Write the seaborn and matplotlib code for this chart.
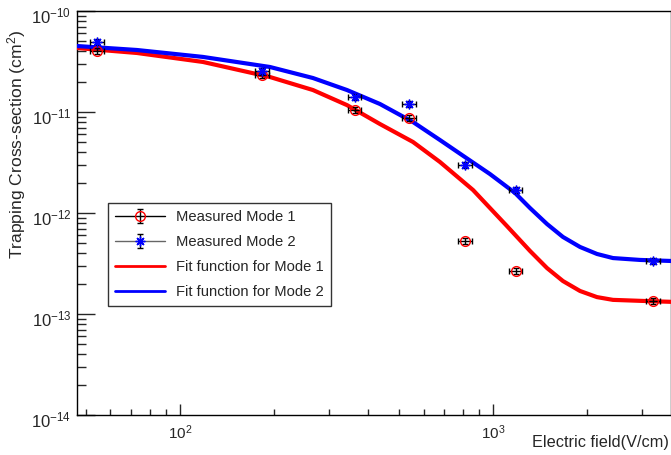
import numpy as np
import pandas as pd
import matplotlib
matplotlib.use("Agg")
import matplotlib.pyplot as plt
import matplotlib.transforms as mtransforms
import seaborn as sns
from matplotlib.ticker import LogLocator, NullFormatter, LogFormatterSciNotation, FixedLocator
from matplotlib.lines import Line2D
from matplotlib.legend_handler import HandlerTuple

# ---- data ----
field = [54.3, 183.0, 362.0, 540.0, 815.0, 1183.0, 3243.0]
field_err = [2.7, 9.2, 18.0, 27.0, 41.0, 59.0, 162.0]
mode1 = [4.02e-11, 2.32e-11, 1.05e-11, 8.73e-12, 5.28e-13, 2.67e-13, 1.35e-13]
mode1_err = [2.8e-12, 1.6e-12, 7.0e-13, 6.0e-13, 3.7e-14, 1.9e-14, 9.0e-15]
mode2 = [4.93e-11, 2.55e-11, 1.41e-11, 1.20e-11, 2.98e-12, 1.69e-12, 3.35e-13]
mode2_err = [3.4e-12, 1.8e-12, 1.0e-12, 8.0e-13, 2.1e-13, 1.2e-13, 2.3e-14]

fit1_x = [46.9, 72.9, 118.4, 193.9, 266.0, 341.7, 435.5, 555.2, 677.0, 863.4,
          1108.0, 1313.0, 1488.0, 1673.0, 1897.0, 2149.0, 2417.0, 2949.0, 3704.0]
fit1_y = [4.30e-11, 3.84e-11, 3.13e-11, 2.22e-11, 1.65e-11, 1.17e-11, 7.60e-12,
          5.05e-12, 3.20e-12, 1.69e-12, 7.43e-13, 4.21e-13, 2.85e-13, 2.12e-13,
          1.69e-13, 1.47e-13, 1.38e-13, 1.35e-13, 1.32e-13]
fit2_x = [46.9, 72.9, 118.4, 193.9, 266.0, 341.7, 435.5, 555.2, 677.0, 813.7,
          978.2, 1176.0, 1313.0, 1488.0, 1673.0, 1897.0, 2149.0, 2417.0, 2949.0, 3704.0]
fit2_y = [4.50e-11, 4.11e-11, 3.51e-11, 2.79e-11, 2.17e-11, 1.65e-11, 1.20e-11,
          7.96e-12, 5.28e-12, 3.58e-12, 2.43e-12, 1.58e-12, 1.12e-12, 7.78e-13,
          5.79e-13, 4.61e-13, 3.93e-13, 3.58e-13, 3.43e-13, 3.35e-13]

y_major = [1e-14, 1e-13, 1e-12, 1e-11, 1e-10]
x_major = [1e2, 1e3]

labels = ["Measured Mode 1", "Measured Mode 2", "Fit function for Mode 1", "Fit function for Mode 2"]
x_title = "Electric field(V/cm)"
y_title = "Trapping Cross-section (cm$^{2}$)"

# ---- style ----
sns.set_style("ticks")
plt.rcParams['font.family'] = ['Liberation Sans', 'DejaVu Sans']
plt.rcParams['mathtext.fontset'] = 'custom'
plt.rcParams['mathtext.rm'] = 'Liberation Sans'
plt.rcParams['mathtext.it'] = 'Liberation Sans:italic'
plt.rcParams['mathtext.default'] = 'regular'

fig = plt.figure(figsize=(6.71, 4.55), dpi=100)
ax = fig.add_axes([77/671, 1 - 415/455, 1 - 77/671, (415 - 11)/455])

df1 = pd.DataFrame({"x": fit1_x, "y": fit1_y})
df2 = pd.DataFrame({"x": fit2_x, "y": fit2_y})

star_marker = (8, 2, 0)

ax.errorbar(field, mode1, xerr=field_err, yerr=mode1_err, fmt='o', mfc='none',
            mec='red', ms=7, mew=1.0, ecolor='black', elinewidth=1.0, capsize=2.5,
            capthick=1.0, zorder=4)
ax.errorbar(field, mode2, xerr=field_err, yerr=mode2_err, fmt='none',
            ecolor='black', elinewidth=1.0, capsize=2.5, capthick=1.0, zorder=4)
ax.plot(field, mode2, linestyle='none', marker=star_marker, ms=7, mec='blue',
        mew=1.0, zorder=5)

sns.lineplot(data=df1, x="x", y="y", ax=ax, color='red', linewidth=3.0,
             estimator=None, sort=False, zorder=3, solid_joinstyle='round')
sns.lineplot(data=df2, x="x", y="y", ax=ax, color='blue', linewidth=3.0,
             estimator=None, sort=False, zorder=3, solid_joinstyle='round')

ax.set_xscale('log')
ax.set_yscale('log')
ax.set_xlim(46.9, 3704)
ax.set_ylim(1e-14, 1e-10)

ax.yaxis.set_major_locator(FixedLocator(y_major))
ax.xaxis.set_major_locator(FixedLocator(x_major))
ax.yaxis.set_minor_locator(LogLocator(base=10, subs=np.arange(2, 10), numticks=20))
ax.xaxis.set_minor_locator(LogLocator(base=10, subs=np.arange(2, 10), numticks=20))
ax.xaxis.set_minor_formatter(NullFormatter())
ax.yaxis.set_minor_formatter(NullFormatter())
ax.xaxis.set_major_formatter(LogFormatterSciNotation())
ax.yaxis.set_major_formatter(LogFormatterSciNotation())

ax.tick_params(axis='y', which='major', direction='in', length=13, width=1.0,
               labelsize=12, pad=4, right=False)
ax.tick_params(axis='y', which='minor', direction='in', length=6.5, width=1.0, right=False)
ax.tick_params(axis='x', which='major', direction='in', length=8, width=1.0,
               labelsize=11, pad=6, top=False)
ax.tick_params(axis='x', which='minor', direction='in', length=4, width=1.0, top=False)

for s in ax.spines.values():
    s.set_linewidth(1.0)
    s.set_color('black')

ax.set_xlabel("")
ax.set_ylabel("")
fig.text(17/671, 1 - 30/455, y_title, rotation=90, ha='center', va='top', fontsize=12.6)
fig.text(669/671, 1 - 443/455, x_title, ha='right', va='center', fontsize=11.7)

# legend handles
dummy1 = ax.errorbar([np.nan], [np.nan], yerr=[1.0], fmt='o', mfc='none', mec='red',
                     ms=7, mew=1.0, ecolor='black', elinewidth=1.0, capsize=2.5)
dummy2 = ax.errorbar([np.nan], [np.nan], yerr=[1.0], fmt='none',
                     ecolor='black', elinewidth=1.0, capsize=2.5)
hline1 = Line2D([], [], color='black', lw=1.0)
hline2 = Line2D([], [], color='#666666', lw=1.0)
star = Line2D([], [], linestyle='none', marker=star_marker, ms=7, mec='blue', mew=1.0)
h3 = Line2D([], [], color='red', lw=2.0)
h4 = Line2D([], [], color='blue', lw=2.0)
leg = ax.legend([(hline1, dummy1), (hline2, dummy2, star), h3, h4], labels,
                handler_map={tuple: HandlerTuple(ndivide=1)},
                loc='upper left', bbox_to_anchor=(0.052, 0.525), fontsize=10.6,
                frameon=True, fancybox=False, edgecolor='#333333', framealpha=1,
                handlelength=3.4, handletextpad=0.75, labelspacing=0.74,
                borderpad=0.5, borderaxespad=0)
leg.get_frame().set_linewidth(1.0)

fig.canvas.draw()
off = mtransforms.ScaledTranslation(0, -2.5/72, fig.dpi_scale_trans)
for lab in ax.get_yticklabels():
    lab.set_transform(lab.get_transform() + off)

fig.savefig("out.png", dpi=100)
